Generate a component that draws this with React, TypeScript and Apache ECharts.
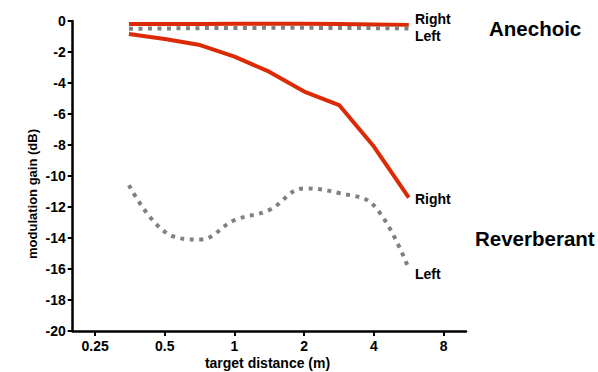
import React, { useEffect, useRef } from "react";
import * as echarts from "echarts";

const distances = [0.35, 0.5, 0.71, 1, 1.41, 2, 2.83, 4, 5.66];
const anechoicRight = [-0.2, -0.2, -0.2, -0.18, -0.18, -0.18, -0.2, -0.22, -0.25];
const anechoicLeft = [-0.5, -0.48, -0.46, -0.45, -0.44, -0.44, -0.45, -0.46, -0.48];
const reverbRight = [-0.84, -1.16, -1.55, -2.3, -3.27, -4.55, -5.42, -8.1, -11.4];
const reverbLeft = [-10.6, -13.6, -14.1, -12.85, -12.2, -10.8, -11.1, -11.9, -16.0];
const xTicks = [0.25, 0.5, 1, 2, 4, 8];

const RED = "#dc2a05";
const GRAY = "#808080";
const FONT = '"Liberation Sans", Arial, sans-serif';

const pair = (ys: number[]) => distances.map((d, i) => [d, ys[i]]);

export default function App() {
  const ref = useRef<HTMLDivElement>(null);
  useEffect(() => {
    if (!ref.current) return;
    const chart = echarts.init(ref.current, undefined, { renderer: "svg" });
    const txt = (text: string, x: number, y: number, size: number, extra: any = {}) => ({
      type: "text",
      x,
      y,
      ...extra,
      style: {
        text,
        fill: "#000",
        font: `bold ${size}px ${FONT}`,
        align: extra.align || "left",
        verticalAlign: "middle",
      },
    });
    chart.setOption({
      animation: false,
      grid: { left: 72.7, top: 21, right: 132, bottom: 41, containLabel: false },
      xAxis: {
        type: "log",
        logBase: 2,
        min: 0.2,
        max: 10,
        axisLine: { show: true, onZero: false, lineStyle: { color: "#000", width: 2.5 } },
        axisTick: { show: true, length: 5, lineStyle: { color: "#000", width: 2 }, customValues: xTicks },
        axisLabel: {
          color: "#000",
          fontWeight: "bold",
          fontSize: 14,
          fontFamily: FONT,
          margin: 8,
          customValues: xTicks,
          formatter: (v: number) => String(v),
        },
        splitLine: { show: false },
        minorTick: { show: false },
      },
      yAxis: {
        type: "value",
        min: -20,
        max: 0,
        interval: 2,
        axisLine: { show: true, onZero: false, lineStyle: { color: "#000", width: 2.5 } },
        axisTick: { show: true, length: 5, lineStyle: { color: "#000", width: 2 } },
        axisLabel: { color: "#000", fontWeight: "bold", fontSize: 14, fontFamily: FONT, margin: 7 },
        splitLine: { show: false },
      },
      series: [
        {
          name: "Anechoic Right",
          type: "line",
          data: pair(anechoicRight),
          showSymbol: false,
          lineStyle: { color: RED, width: 4 },
          z: 3,
        },
        {
          name: "Anechoic Left",
          type: "line",
          data: pair(anechoicLeft),
          showSymbol: false,
          lineStyle: { color: GRAY, width: 4, type: [4, 5.5], cap: "butt" },
          z: 4,
        },
        {
          name: "Reverberant Right",
          type: "line",
          data: pair(reverbRight),
          showSymbol: false,
          lineStyle: { color: RED, width: 4 },
        },
        {
          name: "Reverberant Left",
          type: "line",
          data: pair(reverbLeft),
          showSymbol: false,
          smooth: 0.4,
          lineStyle: { color: GRAY, width: 4, type: [4, 5.5], cap: "butt" },
        },
      ],
      graphic: [
        txt("Right", 415, 18.5, 14),
        txt("Left", 415, 35.5, 14),
        txt("Anechoic", 489, 28.5, 20.5),
        txt("Right", 415, 199, 14),
        txt("Left", 415, 273.5, 14),
        txt("Reverberant", 475, 238.5, 20.5),
        txt("modulation gain (dB)", 32, 194, 13, { rotation: Math.PI / 2, align: "center" }),
        txt("target distance (m)", 267.5, 363, 14, { align: "center" }),
      ],
    });
    return () => chart.dispose();
  }, []);
  return (
    <div
      ref={ref}
      style={{ position: "fixed", left: 0, top: 0, width: 598, height: 372, background: "#fff" }}
    />
  );
}
